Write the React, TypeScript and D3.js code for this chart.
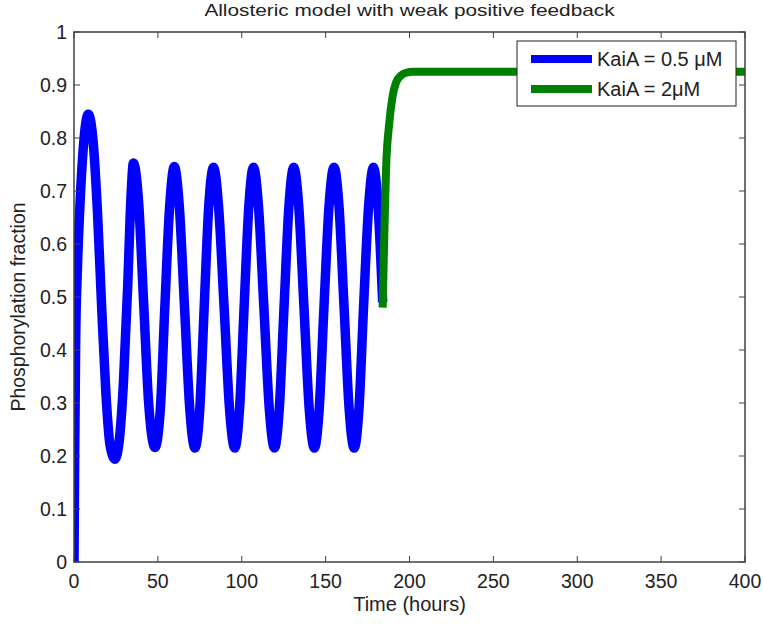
import React from "react";
import * as d3 from "d3";

const blueTime = [0, 0.4, 1, 2, 3.5, 5.5, 8.5, 11.5, 14, 16.5, 19, 21.5, 24.4, 27, 29.5, 32, 34, 35.4, 38.5, 41.5, 44.5, 48.3, 51.5, 54, 57, 59.8, 62.8, 65.9, 69, 72.1, 75, 77.6, 80.3, 83.2, 86.2, 89.5, 92.7, 95.8, 98.7, 101.4, 104.2, 107, 110, 113.2, 116.4, 119.5, 122.4, 125.2, 128.1, 131, 134, 137.1, 140.2, 143.3, 146.2, 149, 152, 155, 158, 161, 164, 167, 169.9, 172.6, 175.6, 178.5, 181.3, 184];
const blueValue = [0, 0.2, 0.42, 0.55, 0.67, 0.78, 0.845, 0.79, 0.66, 0.48, 0.32, 0.22, 0.194, 0.23, 0.34, 0.52, 0.69, 0.753, 0.68, 0.49, 0.3, 0.216, 0.29, 0.47, 0.67, 0.746, 0.67, 0.48, 0.29, 0.215, 0.29, 0.48, 0.67, 0.745, 0.67, 0.48, 0.29, 0.215, 0.29, 0.48, 0.67, 0.745, 0.67, 0.48, 0.29, 0.215, 0.29, 0.48, 0.67, 0.745, 0.67, 0.48, 0.29, 0.215, 0.29, 0.48, 0.67, 0.745, 0.67, 0.48, 0.29, 0.215, 0.29, 0.48, 0.67, 0.745, 0.67, 0.49];

const greenTime = [184, 185, 186, 188, 190, 192, 195, 198, 202, 400];
const greenValue = [0.48, 0.62, 0.74, 0.83, 0.88, 0.905, 0.918, 0.923, 0.925, 0.925];

const xTicks = [0, 50, 100, 150, 200, 250, 300, 350, 400];
const yTicks = [0, 0.1, 0.2, 0.3, 0.4, 0.5, 0.6, 0.7, 0.8, 0.9, 1];
const seriesNames = ["KaiA = 0.5 \u03bcM", "KaiA = 2\u03bcM"];
const seriesColors = ["#0000ff", "#008000"];

const L = 74, R = 745, T = 32, B = 562;
const FONT = "Arial, 'Liberation Sans', sans-serif";
const TXT = "#222";

export default function App() {
  const x = d3.scaleLinear().domain([0, 400]).range([L, R]);
  const y = d3.scaleLinear().domain([0, 1]).range([B, T]);
  const line = d3
    .line<[number, number]>()
    .x((d) => x(d[0]))
    .y((d) => y(d[1]))
    .curve(d3.curveMonotoneX);
  const blue = blueTime.map((t, i) => [t, blueValue[i]] as [number, number]);
  const green = greenTime.map((t, i) => [t, greenValue[i]] as [number, number]);
  const tickLen = 6;
  const axisColor = "#404040";

  return (
    <svg width={763} height={626} style={{ position: "absolute", left: 0, top: 0, background: "#fff" }}>
      <rect x={0} y={0} width={763} height={626} fill="#fff" />
      <defs>
        <clipPath id="plotclip">
          <rect x={L} y={T} width={R - L} height={B - T} />
        </clipPath>
      </defs>
      <g clipPath="url(#plotclip)">
        <path d={line(blue) || ""} fill="none" stroke={seriesColors[0]} strokeWidth={9.5} strokeLinejoin="round" />
        <path d={line(green) || ""} fill="none" stroke={seriesColors[1]} strokeWidth={8} strokeLinejoin="round" />
      </g>
      <rect x={L} y={T} width={R - L} height={B - T} fill="none" stroke={axisColor} strokeWidth={1.5} />
      {xTicks.map((t) => (
        <g key={"x" + t}>
          <line x1={x(t)} x2={x(t)} y1={B} y2={B - tickLen} stroke={axisColor} strokeWidth={1} />
          <line x1={x(t)} x2={x(t)} y1={T} y2={T + tickLen} stroke={axisColor} strokeWidth={1} />
          <text x={x(t)} y={B + 26} textAnchor="middle" fontFamily={FONT} fontSize={19.5} fill={TXT}>
            {t}
          </text>
        </g>
      ))}
      {yTicks.map((t) => (
        <g key={"y" + t}>
          <line x1={L} x2={L + tickLen} y1={y(t)} y2={y(t)} stroke={axisColor} strokeWidth={1} />
          <line x1={R} x2={R - tickLen} y1={y(t)} y2={y(t)} stroke={axisColor} strokeWidth={1} />
          <text x={L - 7} y={y(t) + 7} textAnchor="end" fontFamily={FONT} fontSize={19.5} fill={TXT}>
            {String(t)}
          </text>
        </g>
      ))}
      <text
        transform={`translate(${(L + R) / 2}, 16) scale(1.3, 1)`}
        textAnchor="middle"
        fontFamily={FONT}
        fontSize={16}
        fill={TXT}
      >
        Allosteric model with weak positive feedback
      </text>
      <text x={(L + R) / 2} y={611} textAnchor="middle" fontFamily={FONT} fontSize={20} fill={TXT}>
        Time (hours)
      </text>
      <text
        transform={`translate(25, ${(T + B) / 2 + 10}) rotate(-90)`}
        textAnchor="middle"
        fontFamily={FONT}
        fontSize={19.5}
        fill={TXT}
      >
        Phosphorylation fraction
      </text>
      <g>
        <rect x={517} y={41} width={219} height={65} fill="#fff" stroke="#222" strokeWidth={1} />
        {seriesNames.map((n, i) => (
          <g key={n}>
            <line x1={531} x2={592} y1={59 + i * 30} y2={59 + i * 30} stroke={seriesColors[i]} strokeWidth={8} />
            <text x={597} y={59 + i * 30 + 7} fontFamily={FONT} fontSize={20} fill={TXT}>
              {n}
            </text>
          </g>
        ))}
      </g>
    </svg>
  );
}
